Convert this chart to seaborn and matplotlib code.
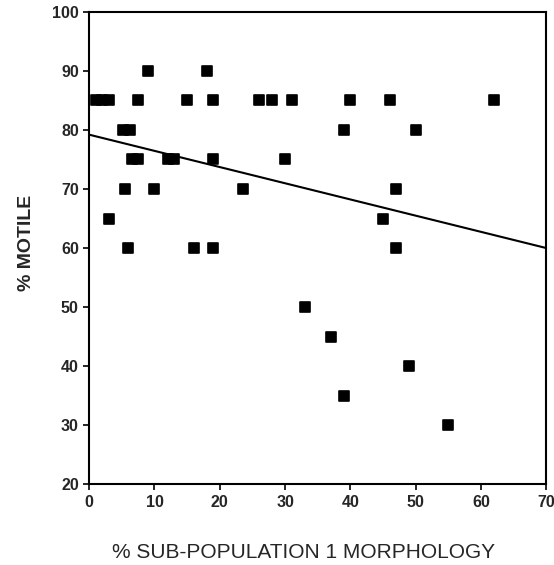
import matplotlib
matplotlib.use("Agg")
import matplotlib.pyplot as plt
import numpy as np
import pandas as pd
import seaborn as sns

# % sub-population 1 morphology vs % motile
sub_pop1 = [1, 2, 3, 7.5, 15, 19, 26, 28, 31, 40, 46, 62,
            9, 18,
            5.2, 6.2, 39, 50,
            6.5, 7.5, 12, 13, 19, 30,
            5.5, 10, 23.5, 47,
            3, 45,
            6, 16, 19, 47,
            33, 37, 49, 39, 55]
motile = [85, 85, 85, 85, 85, 85, 85, 85, 85, 85, 85, 85,
          90, 90,
          80, 80, 80, 80,
          75, 75, 75, 75, 75, 75,
          70, 70, 70, 70,
          65, 65,
          60, 60, 60, 60,
          50, 45, 40, 35, 30]

fit_x = [0, 70]
fit_y = [79.2, 60]

df = pd.DataFrame({"sub_pop1": sub_pop1, "motile": motile})
fit = pd.DataFrame({"x": fit_x, "y": fit_y})

sns.set_style("ticks")
plt.rcParams['font.family'] = ['Liberation Sans', 'DejaVu Sans']

fig = plt.figure(figsize=(5.54, 5.65), dpi=100)
ax = fig.add_axes([0.161, 0.143, 0.825, 0.836])

sns.lineplot(data=fit, x="x", y="y", color="black", linewidth=1.5, ax=ax)
sns.scatterplot(data=df, x="sub_pop1", y="motile", marker="s", s=50,
                color="black", edgecolor="black", linewidth=1.2, ax=ax, zorder=3)

ax.set_xlim(0, 70)
ax.set_ylim(20, 100)
ax.set_xticks(range(0, 71, 10))
ax.set_yticks(range(20, 101, 10))
for lab in ax.get_xticklabels() + ax.get_yticklabels():
    lab.set_fontweight("bold")
    lab.set_fontsize(11.5)
ax.tick_params(direction="out", length=4, width=1.2, color="black")
for sp in ax.spines.values():
    sp.set_linewidth(1.5)
    sp.set_color("black")

ax.set_xlabel("% SUB-POPULATION 1 MORPHOLOGY", fontsize=15)
ax.set_ylabel("% MOTILE", fontsize=14, fontweight="bold")
ax.xaxis.set_label_coords(0.468, -0.125)
ax.yaxis.set_label_coords(-0.118, 0.51)

fig.savefig("out.png", dpi=100)
